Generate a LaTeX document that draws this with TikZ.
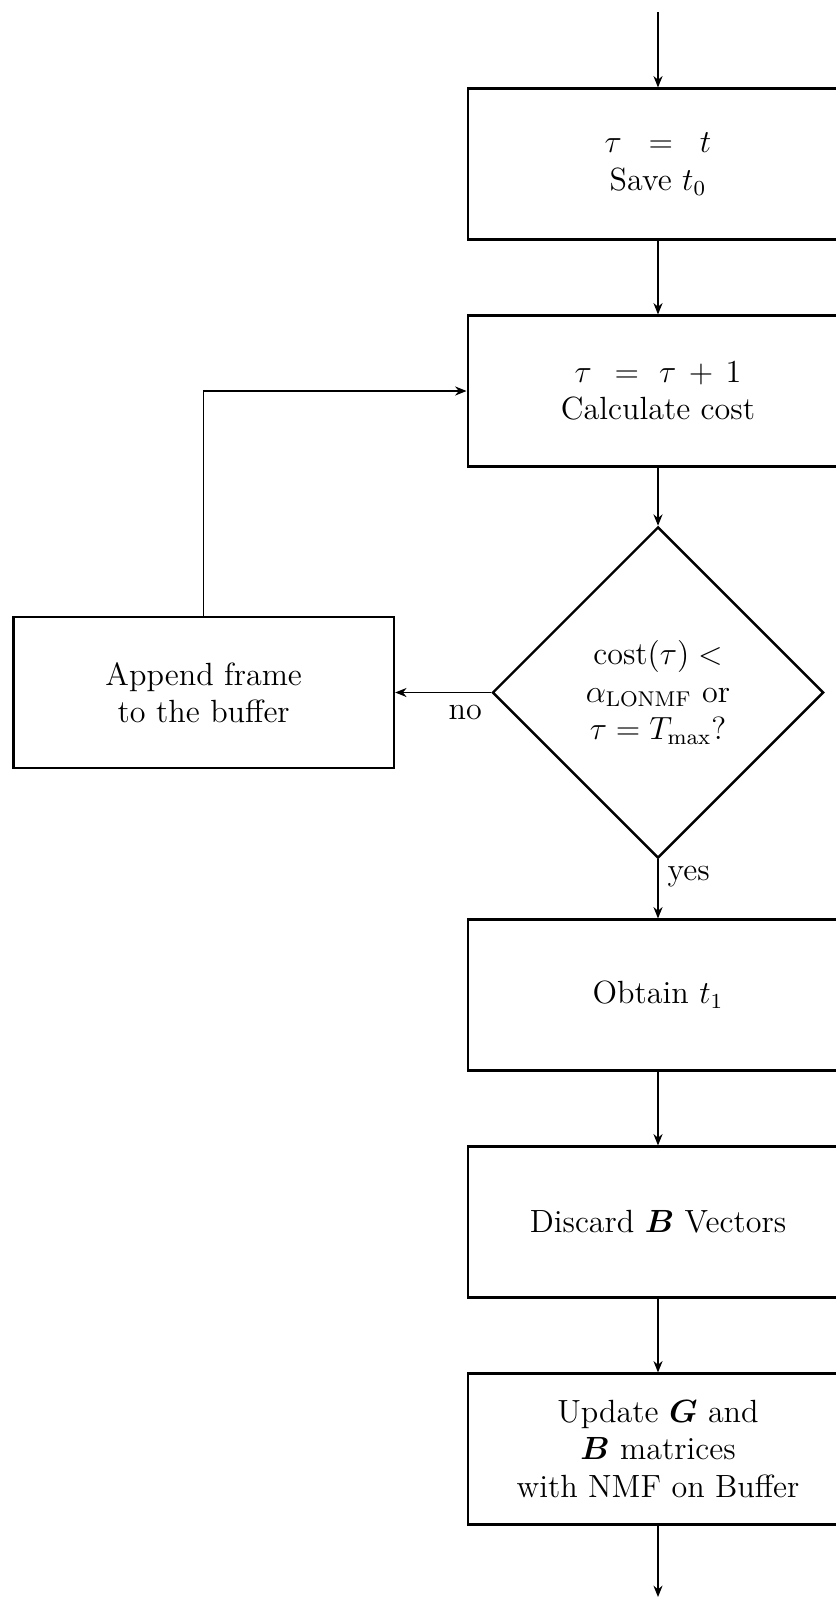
\documentclass[tikz,border=0pt]{standalone}
\usepackage{bm}
\usetikzlibrary{shapes.geometric,arrows.meta}
\begin{document}
\begin{tikzpicture}[x=0.013141cm,y=-0.013141cm,
  stepbox/.style={draw,line width=0.9pt,rectangle,minimum width=5cm,minimum height=1.98cm,align=center,font=\large,inner sep=2pt},
  decide/.style={draw,line width=0.9pt,diamond,aspect=1,minimum width=4.35cm,minimum height=4.35cm,align=center,font=\large,inner sep=0pt},
  flow/.style={-{Stealth[length=1.5mm,width=1.2mm]},line width=0.45pt},
  lbl/.style={font=\large}]
\useasboundingbox (0,0) rectangle (836,1597);
\coordinate (start) at (658,12);
\coordinate (finish) at (658,1597);
\node[stepbox] (b1) at (658,164) {$\tau\hspace{10pt}{=}\hspace{10pt}t$\\Save $t_0$};
\node[stepbox] (b2) at (658,391) {$\tau\hspace{8.5pt}{=}\hspace{7.5pt}\tau\mkern7mu{+}\mkern7mu1$\\Calculate cost};
\node[decide] (d) at (658,692.5) {cost$(\tau)<$\\$\alpha_{\mathrm{LONMF}}$ or\\$\tau=T_{\max}$?};
\node[stepbox] (b3) at (658,995) {Obtain $t_1$};
\node[stepbox] (b4) at (658,1222) {Discard $\bm{B}$ Vectors};
\node[stepbox] (b5) at (658,1449) {Update $\bm{G}$ and\\$\bm{B}$ matrices\\with NMF on Buffer};
\node[stepbox] (app) at (203.7,692.5) {Append frame\\to the buffer};
\draw[flow] (start) -- (b1.north);
\draw[flow] (b1.south) -- (b2.north);
\draw[flow] (b2.south) -- (d.north);
\draw[flow] (d.west) -- node[lbl,pos=0.27,below,yshift=-1pt]{no} (app.east);
\draw[flow] (app.north) |- (b2.west);
\draw[flow] (d.south) -- node[lbl,pos=0,anchor=north west,yshift=1pt]{yes} (b3.north);
\draw[flow] (b3.south) -- (b4.north);
\draw[flow] (b4.south) -- (b5.north);
\draw[flow] (b5.south) -- (finish);
\end{tikzpicture}
\end{document}
